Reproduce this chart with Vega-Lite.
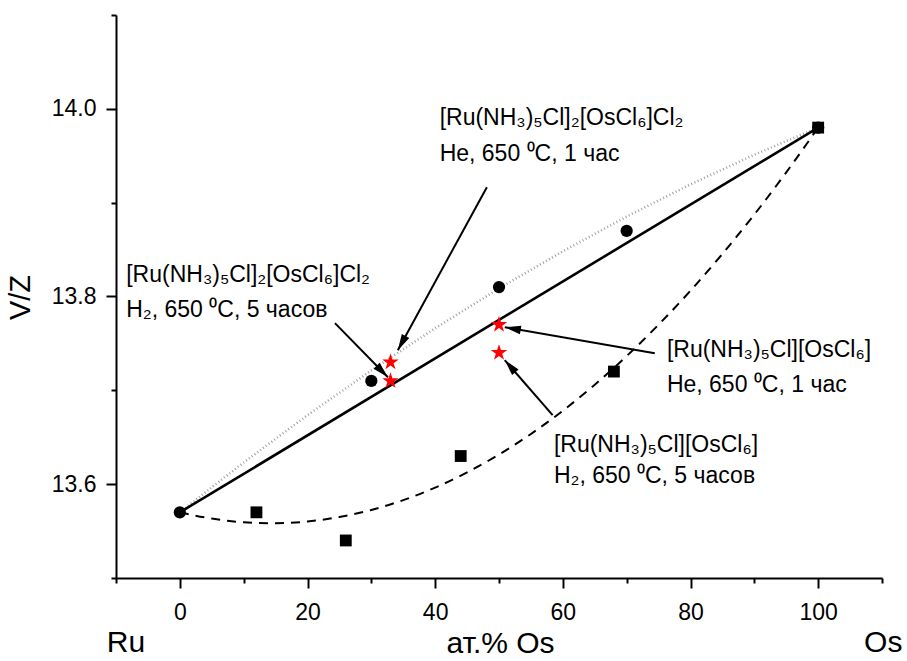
{
  "$schema": "https://vega.github.io/schema/vega-lite/v6.json",
  "width": 766,
  "height": 563,
  "autosize": "none",
  "padding": {"left": 116, "top": 15, "right": 25, "bottom": 83},
  "background": "white",
  "config": {
    "view": {"stroke": null},
    "font": "Liberation Sans",
    "axis": {"grid": false, "domainColor": "black", "domainWidth": 2, "tickColor": "black", "tickWidth": 2, "labelColor": "black", "titleColor": "black", "labelFont": "Liberation Sans", "titleFont": "Liberation Sans", "titleFontWeight": "normal", "labelFontSize": 23, "titleFontSize": 29}
  },
  "datasets": {
    "lin": [{"x": 0, "y": 13.57}, {"x": 100, "y": 13.98}],
    "fitCirc": [
      {"x": 0, "y": 13.57}, {"x": 10, "y": 13.6231}, {"x": 20, "y": 13.6735}, {"x": 30, "y": 13.7212},
      {"x": 40, "y": 13.7662}, {"x": 50, "y": 13.8086}, {"x": 60, "y": 13.8482}, {"x": 70, "y": 13.8852},
      {"x": 80, "y": 13.9195}, {"x": 90, "y": 13.9511}, {"x": 100, "y": 13.98}
    ],
    "fitSq": [
      {"x": 0, "y": 13.57}, {"x": 5, "y": 13.5633}, {"x": 10, "y": 13.5594}, {"x": 15, "y": 13.5584},
      {"x": 20, "y": 13.5602}, {"x": 25, "y": 13.565}, {"x": 30, "y": 13.5725}, {"x": 35, "y": 13.583},
      {"x": 40, "y": 13.5963}, {"x": 45, "y": 13.6125}, {"x": 50, "y": 13.6316}, {"x": 55, "y": 13.6535},
      {"x": 60, "y": 13.6783}, {"x": 65, "y": 13.706}, {"x": 70, "y": 13.7365}, {"x": 75, "y": 13.77},
      {"x": 80, "y": 13.8062}, {"x": 85, "y": 13.8454}, {"x": 90, "y": 13.8874}, {"x": 95, "y": 13.9323},
      {"x": 100, "y": 13.98}
    ],
    "circles": [{"x": 0, "y": 13.57}, {"x": 30, "y": 13.71}, {"x": 50, "y": 13.81}, {"x": 70, "y": 13.87}, {"x": 100, "y": 13.98}],
    "squares": [{"x": 12, "y": 13.57}, {"x": 26, "y": 13.54}, {"x": 44, "y": 13.63}, {"x": 68, "y": 13.72}, {"x": 100, "y": 13.98}],
    "stars": [{"x": 33, "y": 13.73}, {"x": 33, "y": 13.71}, {"x": 50, "y": 13.77}, {"x": 50, "y": 13.74}],
    "arrows": [
      {"x": 48.1, "y": 13.9165, "x2": 34.15, "y2": 13.7428, "angle": 208.6},
      {"x": 24.3, "y": 13.7716, "x2": 32.6, "y2": 13.714, "angle": 135.5},
      {"x": 74.4, "y": 13.7396, "x2": 50.9, "y2": 13.7673, "angle": 279.8},
      {"x": 58.4, "y": 13.6735, "x2": 50.9, "y2": 13.7322, "angle": 318.9}
    ],
    "notes": [
      {"x": 40.7, "y": 13.983, "t": "[Ru(NH₃)₅Cl]₂[OsCl₆]Cl₂"},
      {"x": 40.7, "y": 13.9445, "t": "He, 650 ⁰C, 1 час"},
      {"x": -8.4, "y": 13.8155, "t": "[Ru(NH₃)₅Cl]₂[OsCl₆]Cl₂"},
      {"x": -8.4, "y": 13.778, "t": "H₂, 650 ⁰C, 5 часов"},
      {"x": 76.3, "y": 13.7355, "t": "[Ru(NH₃)₅Cl][OsCl₆]"},
      {"x": 76.3, "y": 13.698, "t": "He, 650 ⁰C, 1 час"},
      {"x": 58.6, "y": 13.634, "t": "[Ru(NH₃)₅Cl][OsCl₆]"},
      {"x": 58.6, "y": 13.601, "t": "H₂, 650 ⁰C, 5 часов"}
    ],
    "ends": [{"x": -8.45, "y": 13.4211, "t": "Ru"}, {"x": 110.2, "y": 13.4211, "t": "Os"}]
  },
  "encoding": {
    "x": {"field": "x", "type": "quantitative", "scale": {"domain": [-10, 110], "nice": false, "zero": false},
      "axis": {"title": "ат.% Os", "values": [-10, 0, 10, 20, 30, 40, 50, 60, 70, 80, 90, 100, 110],
        "labelExpr": "datum.value % 20 === 0 ? datum.label : ''",
        "tickSize": {"condition": {"test": "datum.value % 20 === 0", "value": 10}, "value": 5},
        "labelPadding": 13, "titleX": 384, "titleY": 74, "titleAlign": "center", "titleBaseline": "alphabetic", "titleFontSize": 30}},
    "y": {"field": "y", "type": "quantitative", "scale": {"domain": [13.5, 14.1], "nice": false, "zero": false},
      "axis": {"title": "V/Z", "values": [13.5, 13.6, 13.7, 13.8, 13.9, 14.0, 14.1], "format": ".1f",
        "labelExpr": "round(datum.value * 10) % 2 === 0 ? datum.label : ''",
        "tickSize": {"condition": {"test": "round(datum.value * 10) % 2 === 0", "value": 10}, "value": 5},
        "labelPadding": 10, "titleX": -96, "titleY": 282, "titleAngle": -90, "titleAlign": "center", "titleBaseline": "middle"}}
  },
  "layer": [
    {"data": {"name": "fitCirc"}, "mark": {"type": "line", "color": "#a0a0a0", "strokeWidth": 2.5, "strokeDash": [1, 2.5]}},
    {"data": {"name": "lin"}, "mark": {"type": "line", "color": "black", "strokeWidth": 2.6}},
    {"data": {"name": "fitSq"}, "mark": {"type": "line", "color": "black", "strokeWidth": 2, "strokeDash": [9, 7], "interpolate": "monotone"}},
    {"data": {"name": "circles"}, "mark": {"type": "point", "shape": "circle", "filled": true, "color": "black", "size": 150, "opacity": 1}},
    {"data": {"name": "squares"}, "mark": {"type": "point", "shape": "square", "filled": true, "color": "black", "size": 140, "opacity": 1}},
    {"data": {"name": "stars"}, "mark": {"type": "point", "shape": "M0,-1L0.2245,-0.309L0.951,-0.309L0.363,0.118L0.588,0.809L0,0.382L-0.588,0.809L-0.363,0.118L-0.951,-0.309L-0.2245,-0.309Z", "filled": true, "color": "#ff0000", "size": 300, "opacity": 1}},
    {"data": {"name": "arrows"}, "mark": {"type": "rule", "color": "black", "strokeWidth": 2},
      "encoding": {"x2": {"field": "x2"}, "y2": {"field": "y2"}}},
    {"data": {"name": "arrows"}, "mark": {"type": "point", "shape": "M0,0L0.45,1.7L-0.45,1.7Z", "filled": true, "color": "black", "size": 360, "opacity": 1},
      "encoding": {"x": {"field": "x2", "type": "quantitative"}, "y": {"field": "y2", "type": "quantitative"}, "angle": {"field": "angle", "type": "quantitative", "scale": null}}},
    {"data": {"name": "notes"}, "mark": {"type": "text", "align": "left", "baseline": "alphabetic", "fontSize": 23, "font": "Liberation Sans", "color": "black"},
      "encoding": {"text": {"field": "t"}}},
    {"data": {"name": "ends"}, "mark": {"type": "text", "align": "center", "baseline": "alphabetic", "fontSize": 30, "font": "Liberation Sans", "color": "black"},
      "encoding": {"text": {"field": "t"}}},
    {"data": {"values": [{}]}, "mark": {"type": "rule", "color": "black", "strokeWidth": 2}, "encoding": {"x": {"datum": 110}, "y": {"datum": 13.5}, "y2": {"datum": 14.1}}}
  ]
}
